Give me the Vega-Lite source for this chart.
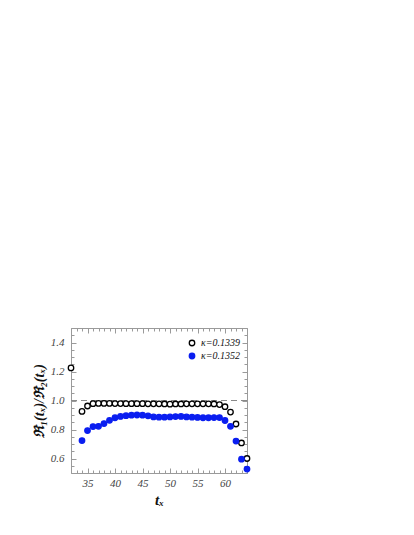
{
  "$schema": "https://vega.github.io/schema/vega-lite/v6.json",
  "autosize": {"type": "none"},
  "padding": {"left": 71, "top": 328, "right": 167, "bottom": 62},
  "width": 176,
  "height": 145,
  "background": "white",
  "config": {
    "font": "Liberation Serif",
    "view": {"stroke": "#9a9a9a", "strokeWidth": 1}
  },
  "data": {
    "values": [
      {"t": 32, "r": 1.225, "k": "κ=0.1339"},
      {"t": 34, "r": 0.925, "k": "κ=0.1339"},
      {"t": 35, "r": 0.962, "k": "κ=0.1339"},
      {"t": 36, "r": 0.978, "k": "κ=0.1339"},
      {"t": 37, "r": 0.98, "k": "κ=0.1339"},
      {"t": 38, "r": 0.98, "k": "κ=0.1339"},
      {"t": 39, "r": 0.98, "k": "κ=0.1339"},
      {"t": 40, "r": 0.979, "k": "κ=0.1339"},
      {"t": 41, "r": 0.979, "k": "κ=0.1339"},
      {"t": 42, "r": 0.978, "k": "κ=0.1339"},
      {"t": 43, "r": 0.978, "k": "κ=0.1339"},
      {"t": 44, "r": 0.978, "k": "κ=0.1339"},
      {"t": 45, "r": 0.978, "k": "κ=0.1339"},
      {"t": 46, "r": 0.977, "k": "κ=0.1339"},
      {"t": 47, "r": 0.977, "k": "κ=0.1339"},
      {"t": 48, "r": 0.977, "k": "κ=0.1339"},
      {"t": 49, "r": 0.976, "k": "κ=0.1339"},
      {"t": 50, "r": 0.975, "k": "κ=0.1339"},
      {"t": 51, "r": 0.976, "k": "κ=0.1339"},
      {"t": 52, "r": 0.976, "k": "κ=0.1339"},
      {"t": 53, "r": 0.977, "k": "κ=0.1339"},
      {"t": 54, "r": 0.977, "k": "κ=0.1339"},
      {"t": 55, "r": 0.977, "k": "κ=0.1339"},
      {"t": 56, "r": 0.977, "k": "κ=0.1339"},
      {"t": 57, "r": 0.977, "k": "κ=0.1339"},
      {"t": 58, "r": 0.976, "k": "κ=0.1339"},
      {"t": 59, "r": 0.972, "k": "κ=0.1339"},
      {"t": 60, "r": 0.957, "k": "κ=0.1339"},
      {"t": 61, "r": 0.92, "k": "κ=0.1339"},
      {"t": 62, "r": 0.838, "k": "κ=0.1339"},
      {"t": 63, "r": 0.707, "k": "κ=0.1339"},
      {"t": 64, "r": 0.6, "k": "κ=0.1339"},
      {"t": 34, "r": 0.724, "k": "κ=0.1352"},
      {"t": 35, "r": 0.793, "k": "κ=0.1352"},
      {"t": 36, "r": 0.82, "k": "κ=0.1352"},
      {"t": 37, "r": 0.822, "k": "κ=0.1352"},
      {"t": 38, "r": 0.841, "k": "κ=0.1352"},
      {"t": 39, "r": 0.863, "k": "κ=0.1352"},
      {"t": 40, "r": 0.881, "k": "κ=0.1352"},
      {"t": 41, "r": 0.89, "k": "κ=0.1352"},
      {"t": 42, "r": 0.895, "k": "κ=0.1352"},
      {"t": 43, "r": 0.899, "k": "κ=0.1352"},
      {"t": 44, "r": 0.9, "k": "κ=0.1352"},
      {"t": 45, "r": 0.899, "k": "κ=0.1352"},
      {"t": 46, "r": 0.894, "k": "κ=0.1352"},
      {"t": 47, "r": 0.887, "k": "κ=0.1352"},
      {"t": 48, "r": 0.885, "k": "κ=0.1352"},
      {"t": 49, "r": 0.885, "k": "κ=0.1352"},
      {"t": 50, "r": 0.887, "k": "κ=0.1352"},
      {"t": 51, "r": 0.889, "k": "κ=0.1352"},
      {"t": 52, "r": 0.89, "k": "κ=0.1352"},
      {"t": 53, "r": 0.887, "k": "κ=0.1352"},
      {"t": 54, "r": 0.885, "k": "κ=0.1352"},
      {"t": 55, "r": 0.883, "k": "κ=0.1352"},
      {"t": 56, "r": 0.881, "k": "κ=0.1352"},
      {"t": 57, "r": 0.881, "k": "κ=0.1352"},
      {"t": 58, "r": 0.882, "k": "κ=0.1352"},
      {"t": 59, "r": 0.882, "k": "κ=0.1352"},
      {"t": 60, "r": 0.862, "k": "κ=0.1352"},
      {"t": 61, "r": 0.822, "k": "κ=0.1352"},
      {"t": 62, "r": 0.72, "k": "κ=0.1352"},
      {"t": 63, "r": 0.595, "k": "κ=0.1352"},
      {"t": 64, "r": 0.527, "k": "κ=0.1352"}
    ]
  },
  "layer": [
    {
      "data": {"values": [{"ref": 1}]},
      "mark": {"type": "rule", "color": "#8a8a8a", "strokeDash": [6, 4], "strokeWidth": 1},
      "encoding": {
        "y": {"field": "ref", "type": "quantitative", "axis": null}
      }
    },
    {
      "mark": {"type": "point", "opacity": 0},
      "encoding": {
        "x": {
          "field": "t", "type": "quantitative",
          "axis": {
            "orient": "top", "labels": false, "title": null, "domain": false, "grid": false,
            "values": [32,33,34,35,36,37,38,39,40,41,42,43,44,45,46,47,48,49,50,51,52,53,54,55,56,57,58,59,60,61,62,63,64],
            "tickColor": "#9a9a9a",
            "tickSize": {"condition": {"test": "datum.value % 5 === 0", "value": -5}, "value": -3}
          }
        },
        "y": {
          "field": "r", "type": "quantitative",
          "axis": {
            "orient": "right", "labels": false, "title": null, "domain": false, "grid": false,
            "values": [0.5,0.55,0.6,0.65,0.7,0.75,0.8,0.85,0.9,0.95,1.0,1.05,1.1,1.15,1.2,1.25,1.3,1.35,1.4,1.45,1.5],
            "tickColor": "#9a9a9a",
            "tickSize": {"condition": {"test": "round(datum.value * 20) % 4 === 0", "value": -5}, "value": -3}
          }
        }
      }
    },
    {
      "mark": {"type": "point", "shape": "circle", "size": 30, "strokeWidth": 1.3, "opacity": 1},
      "encoding": {
        "x": {
          "field": "t", "type": "quantitative",
          "scale": {"domain": [32, 64], "nice": false, "zero": false},
          "axis": {
            "orient": "bottom", "domain": false, "grid": false,
            "values": [32,33,34,35,36,37,38,39,40,41,42,43,44,45,46,47,48,49,50,51,52,53,54,55,56,57,58,59,60,61,62,63,64],
            "labelExpr": "datum.value % 5 === 0 ? datum.label : ''",
            "tickColor": "#9a9a9a",
            "tickSize": {"condition": {"test": "datum.value % 5 === 0", "value": -5}, "value": -3},
            "labelFont": "Liberation Serif", "labelFontStyle": "italic", "labelFontSize": 11,
            "labelColor": "#444444", "labelPadding": 9, "labelOverlap": false,
            "title": "tₓ", "titleFont": "Liberation Serif", "titleFontStyle": "italic",
            "titleFontWeight": "bold", "titleFontSize": 15, "titleColor": "#111111", "titlePadding": 2
          }
        },
        "y": {
          "field": "r", "type": "quantitative",
          "scale": {"domain": [0.5, 1.5], "nice": false, "zero": false},
          "axis": {
            "orient": "left", "domain": false, "grid": false,
            "values": [0.5,0.55,0.6,0.65,0.7,0.75,0.8,0.85,0.9,0.95,1.0,1.05,1.1,1.15,1.2,1.25,1.3,1.35,1.4,1.45,1.5],
            "labelExpr": "round(datum.value * 20) % 4 === 0 && datum.value > 0.55 && datum.value < 1.45 ? format(datum.value, '.1f') : ''",
            "tickColor": "#9a9a9a",
            "tickSize": {"condition": {"test": "round(datum.value * 20) % 4 === 0", "value": -5}, "value": -3},
            "labelFont": "Liberation Serif", "labelFontStyle": "italic", "labelFontSize": 11,
            "labelColor": "#444444", "labelPadding": 12, "labelOverlap": false,
            "title": "ℜ₁(tₓ)/ℜ₂(tₓ)", "titleFont": "Liberation Serif", "titleFontStyle": "italic",
            "titleFontWeight": "bold", "titleFontSize": 14, "titleColor": "#111111", "titlePadding": 4
          }
        },
        "stroke": {
          "field": "k", "type": "nominal",
          "scale": {"domain": ["κ=0.1339", "κ=0.1352"], "range": ["#000000", "#0a1ef0"]},
          "legend": {
            "orient": "none", "legendX": 116, "legendY": 10, "title": null,
            "labelFont": "Liberation Serif", "labelFontStyle": "italic", "labelFontSize": 10,
            "labelColor": "#111111", "symbolSize": 30, "symbolStrokeWidth": 1.3, "rowPadding": 1, "padding": 0
          }
        },
        "fill": {
          "field": "k", "type": "nominal",
          "scale": {"domain": ["κ=0.1339", "κ=0.1352"], "range": ["#ffffff", "#0a1ef0"]},
          "legend": {
            "orient": "none", "legendX": 116, "legendY": 10, "title": null,
            "labelFont": "Liberation Serif", "labelFontStyle": "italic", "labelFontSize": 10,
            "labelColor": "#111111", "symbolSize": 30, "symbolStrokeWidth": 1.3, "rowPadding": 1, "padding": 0
          }
        }
      }
    }
  ],
  "resolve": {"axis": {"x": "independent", "y": "independent"}}
}
